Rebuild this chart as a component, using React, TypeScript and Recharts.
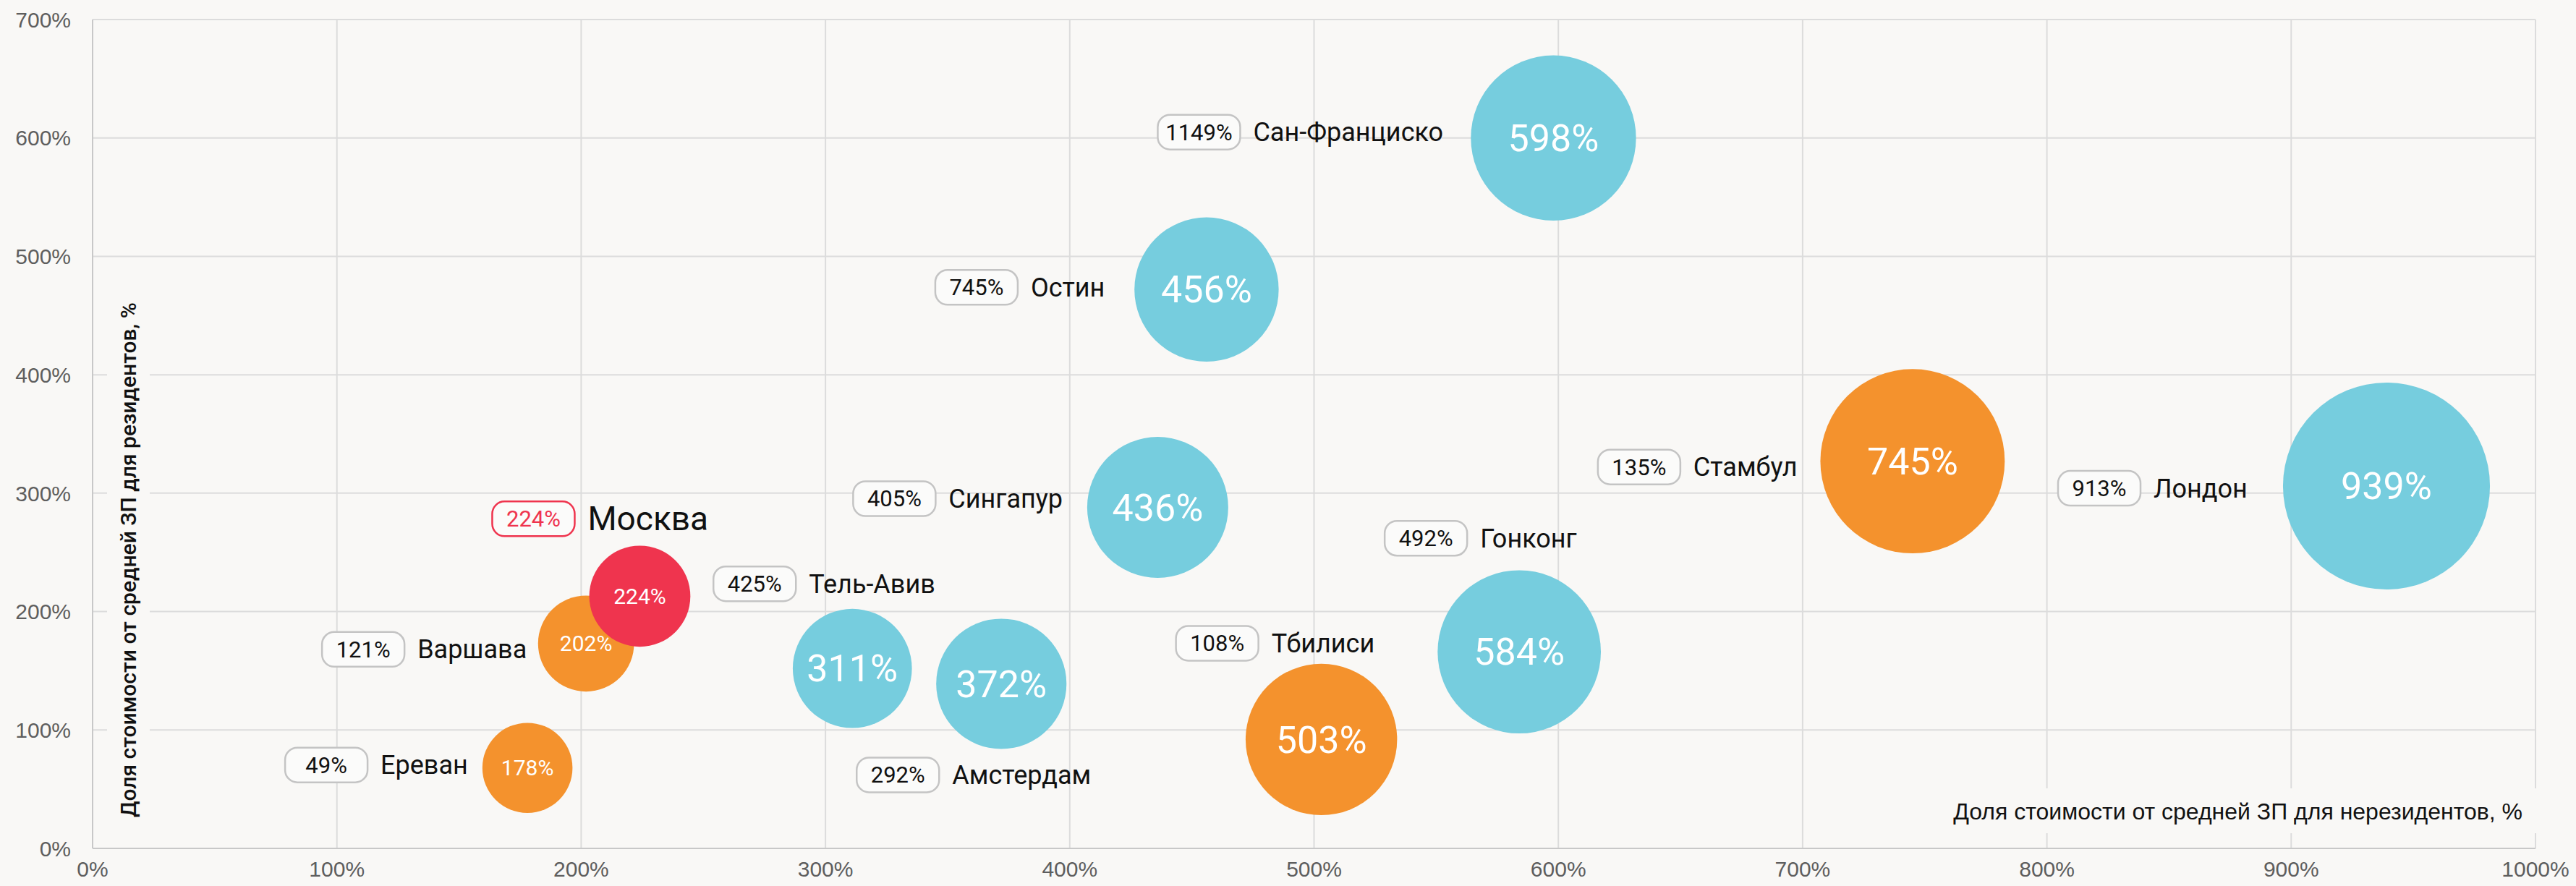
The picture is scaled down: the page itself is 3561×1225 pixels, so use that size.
import { Cell, CartesianGrid, Scatter, ScatterChart, XAxis, YAxis, ZAxis } from "recharts";

const cities = ["Ереван", "Варшава", "Москва", "Тель-Авив", "Амстердам", "Сингапур", "Остин", "Тбилиси", "Гонконг", "Сан-Франциско", "Стамбул", "Лондон"];
// share of average salary for non-residents, % (x axis, also the bubble label)
const nonResidentShare = [178, 202, 224, 311, 372, 436, 456, 503, 584, 598, 745, 939];
// share of average salary for residents, % (y axis)
const residentShare = [68, 173, 213, 152, 139, 288, 472, 92, 166, 600, 327, 306];
// value in the pill next to the city name
const pillValues = [49, 121, 224, 425, 292, 405, 745, 108, 492, 1149, 135, 913];
const groups = ["orange", "orange", "red", "cyan", "cyan", "cyan", "cyan", "orange", "cyan", "cyan", "orange", "cyan"];

const xTicks = [0, 100, 200, 300, 400, 500, 600, 700, 800, 900, 1000];
const yTicks = [0, 100, 200, 300, 400, 500, 600, 700];

const COLORS: Record<string, string> = { cyan: "#76CDDE", orange: "#F4922D", red: "#EF344E" };
const BG = "#f9f8f6";

// where the city name starts, relative to the bubble centre
const labelPos: Record<string, [number, number]> = {
  "Ереван": [-203, -4],
  "Варшава": [-233, 8],
  "Москва": [-72, -107],
  "Тель-Авив": [-60, -117],
  "Амстердам": [-68, 126],
  "Сингапур": [-289, -12],
  "Остин": [-243, -3],
  "Тбилиси": [-69, -133],
  "Гонконг": [-54, -157],
  "Сан-Франциско": [-415, -8],
  "Стамбул": [-303, 8],
  "Лондон": [-322, 3],
};

const data = cities.map((name, i) => ({
  name,
  x: nonResidentShare[i],
  y: residentShare[i],
  z: nonResidentShare[i],
  pill: pillValues[i],
  group: groups[i],
}));

const pct = (v: number) => `${v}%`;

const Bubble = (props: any) => {
  const { cx, cy, width, payload, fill } = props;
  const r = width / 2;
  const [dx, dy] = labelPos[payload.name];
  const isMoscow = payload.group === "red";
  const nameX = cx + dx;
  const nameY = cy + dy;
  const pillW = 114;
  const pillH = 48;
  const pillX = nameX - 18 - pillW;
  return (
    <g>
      <circle cx={cx} cy={cy} r={r} fill={fill} />
      <text x={cx} y={cy} dy="0.35em" textAnchor="middle" fill="#fff" fontSize={r < 80 ? 30 : 52} fontFamily="Roboto">
        {pct(payload.x)}
      </text>
      <rect
        x={pillX}
        y={nameY - pillH / 2}
        width={pillW}
        height={pillH}
        rx={17}
        fill="#fbfbfa"
        stroke={isMoscow ? COLORS.red : "#c4c4c4"}
        strokeWidth={2.5}
      />
      <text x={pillX + pillW / 2} y={nameY} dy="0.35em" textAnchor="middle" fontSize={31} fontFamily="Roboto" fill={isMoscow ? COLORS.red : "#111"}>
        {pct(payload.pill)}
      </text>
      <text x={nameX} y={nameY} dy="0.35em" fontSize={isMoscow ? 46 : 36} fontFamily="Roboto" fill="#111">
        {payload.name}
      </text>
    </g>
  );
};

const YTitle = (props: any) => {
  const { viewBox } = props;
  const x = viewBox.x + viewBox.width + 49;
  const y = viewBox.y + viewBox.height - 43;
  return (
    <g>
      <rect x={x - 29} y={y - 760} width={59} height={775} fill={BG} />
      <text x={x} y={y} dy="0.35em" transform={`rotate(-90 ${x} ${y})`} fontSize={30} fontWeight={500} fontFamily="Roboto" fill="#111">
        Доля стоимости от средней ЗП для резидентов, %
      </text>
    </g>
  );
};

const XTitle = (props: any) => {
  const { viewBox } = props;
  const x = viewBox.x + viewBox.width - 18;
  const y = viewBox.y - 51;
  return (
    <g>
      <rect x={x - 792} y={y - 32} width={825} height={62} fill={BG} />
      <text x={x} y={y} dy="0.35em" textAnchor="end" fontSize={32} fontFamily="Liberation Sans, Arial, sans-serif" fill="#111">
        Доля стоимости от средней ЗП для нерезидентов, %
      </text>
    </g>
  );
};

export default function App() {
  return (
    <div style={{ width: 3561, height: 1225, background: BG }}>
      <style>{`body{margin:0;background:${BG}}`}</style>
      <ScatterChart width={3561} height={1225} margin={{ top: 27, right: 56, bottom: 0, left: 0 }}>
        <CartesianGrid stroke="#dcdcdc" strokeWidth={2} />
        <XAxis
          type="number"
          dataKey="x"
          domain={[0, 1000]}
          ticks={xTicks}
          tickFormatter={pct}
          height={52}
          tickLine={false}
          tickSize={6}
          tickMargin={12}
          axisLine={{ stroke: "#c8c8c8", strokeWidth: 2 }}
          tick={{ fontSize: 30, fill: "#5e5e5e", fontFamily: "Liberation Sans, Arial, sans-serif" }}
          label={<XTitle />}
        />
        <YAxis
          type="number"
          dataKey="y"
          domain={[0, 700]}
          ticks={yTicks}
          tickFormatter={pct}
          width={128}
          tickLine={false}
          tickSize={6}
          tickMargin={24}
          axisLine={{ stroke: "#c8c8c8", strokeWidth: 2 }}
          tick={{ fontSize: 30, fill: "#5e5e5e", fontFamily: "Liberation Sans, Arial, sans-serif" }}
          label={<YTitle />}
        />
        <ZAxis type="number" dataKey="z" domain={[0, 1000]} range={[0, 68487]} />
        <Scatter data={data} shape={<Bubble />} isAnimationActive={false}>
          {data.map((d) => (
            <Cell key={d.name} fill={COLORS[d.group]} />
          ))}
        </Scatter>
      </ScatterChart>
    </div>
  );
}
